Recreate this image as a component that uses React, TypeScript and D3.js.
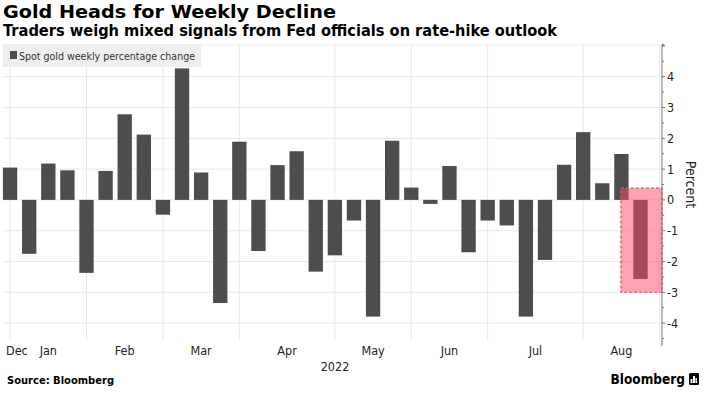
import React, { useRef, useEffect } from 'react';
import * as d3 from 'd3';

// weekly data (week ending Friday)
const weeks = [
  '2021-12-31', '2022-01-07', '2022-01-14', '2022-01-21', '2022-01-28',
  '2022-02-04', '2022-02-11', '2022-02-18', '2022-02-25', '2022-03-04',
  '2022-03-11', '2022-03-18', '2022-03-25', '2022-04-01', '2022-04-08',
  '2022-04-15', '2022-04-22', '2022-04-29', '2022-05-06', '2022-05-13',
  '2022-05-20', '2022-05-27', '2022-06-03', '2022-06-10', '2022-06-17',
  '2022-06-24', '2022-07-01', '2022-07-08', '2022-07-15', '2022-07-22',
  '2022-07-29', '2022-08-05', '2022-08-12', '2022-08-19',
];
const weeklyChange = [
  1.05, -1.75, 1.18, 0.96, -2.37, 0.94, 2.78, 2.12, -0.48, 4.27,
  0.89, -3.35, 1.89, -1.66, 1.13, 1.58, -2.33, -1.8, -0.67, -3.79,
  1.92, 0.4, -0.13, 1.1, -1.7, -0.67, -0.83, -3.79, -1.95, 1.14,
  2.2, 0.54, 1.49, -2.57,
];
const monthLabels = ['Dec', 'Jan', 'Feb', 'Mar', 'Apr', 'May', 'Jun', 'Jul', 'Aug'];
const monthStarts = ['2022-01-01', '2022-02-01', '2022-03-01', '2022-04-01', '2022-05-01',
  '2022-06-01', '2022-07-01', '2022-08-01', '2022-09-01'];
const yTicks = [-4, -3, -2, -1, 0, 1, 2, 3, 4];
const highlightRange = [0.38, -3];

const W = 705;
const H = 393;
const plot = { left: 3, right: 662, top: 45, bottom: 340 };
const FONT = '"DejaVu Sans", sans-serif';
const COND = '"DejaVu Sans Condensed", "DejaVu Sans", sans-serif';

export default function App() {
  const ref = useRef<SVGSVGElement>(null);

  useEffect(() => {
    const svg = d3.select(ref.current);
    svg.selectAll('*').remove();
    const parse = d3.timeParse('%Y-%m-%d');
    const dates = weeks.map(w => parse(w) as Date);

    const x = d3.scaleTime()
      .domain([dates[0], dates[dates.length - 1]])
      .range([10.1, 640.5]);
    const step = x(d3.timeDay.offset(dates[0], 7)) - x(dates[0]);
    const bw = step * 0.75;

    const y = d3.scaleLinear().domain([-4.55, 5.03]).range([plot.bottom, plot.top]);

    // gridlines at the last week before each month start
    const gridDates = monthStarts.map(m => {
      const ms = parse(m) as Date;
      return d3.timeFriday.offset(d3.timeFriday.ceil(ms), -1);
    });
    const gridX = gridDates.map(d => x(d));

    const grid = svg.append('g');
    grid.selectAll('line.h')
      .data(yTicks)
      .enter().append('line')
      .attr('x1', plot.left).attr('x2', plot.right)
      .attr('y1', d => y(d)).attr('y2', d => y(d))
      .attr('stroke', '#e8e8e8').attr('stroke-width', 1);
    grid.append('line')
      .attr('x1', plot.left).attr('x2', plot.right)
      .attr('y1', plot.top).attr('y2', plot.top)
      .attr('stroke', '#ececec');
    grid.selectAll('line.v')
      .data(gridX.filter(v => v < plot.right))
      .enter().append('line')
      .attr('x1', d => d).attr('x2', d => d)
      .attr('y1', plot.top).attr('y2', plot.bottom)
      .attr('stroke', '#e8e8e8');

    // legend
    const lg = svg.append('g');
    lg.append('rect').attr('x', 3).attr('y', 44).attr('width', 198).attr('height', 23)
      .attr('fill', '#efefef');
    lg.append('rect').attr('x', 10).attr('y', 51).attr('width', 7).attr('height', 8)
      .attr('fill', '#4d4d4d');
    lg.append('text').attr('x', 19).attr('y', 59.5)
      .attr('font-family', COND).attr('font-size', 11).attr('fill', '#333')
      .attr('textLength', 176).attr('lengthAdjust', 'spacingAndGlyphs')
      .text('Spot gold weekly percentage change');

    // bars
    svg.append('g').selectAll('rect')
      .data(weeklyChange)
      .enter().append('rect')
      .attr('x', (d, i) => x(dates[i]) - bw / 2)
      .attr('width', bw)
      .attr('y', d => y(Math.max(0, d)))
      .attr('height', d => Math.abs(y(d) - y(0)))
      .attr('fill', '#4d4d4d');

    // highlight
    const hx = x(dates[dates.length - 2]) - 0.5;
    svg.append('rect')
      .attr('x', hx).attr('width', plot.right - hx)
      .attr('y', y(highlightRange[0])).attr('height', y(highlightRange[1]) - y(highlightRange[0]))
      .attr('fill', 'rgba(255,70,100,0.5)')
      .attr('stroke', '#d9506e').attr('stroke-width', 1.2)
      .attr('stroke-dasharray', '3,2');

    // right axis
    const ax = svg.append('g');
    ax.append('line').attr('x1', plot.right).attr('x2', plot.right)
      .attr('y1', plot.top).attr('y2', plot.bottom + 6)
      .attr('stroke', '#777');
    const minor = d3.range(-4.5, 5.01, 0.5);
    ax.selectAll('line.t')
      .data(minor)
      .enter().append('line')
      .attr('x1', plot.right).attr('x2', d => plot.right + (Number.isInteger(d) ? 3 : 2))
      .attr('y1', d => y(d)).attr('y2', d => y(d))
      .attr('stroke', '#777');
    ax.append('path')
      .attr('d', `M${plot.right},${plot.top - 1.5}L${plot.right + 3},${plot.top}L${plot.right},${plot.top + 1.5}Z`)
      .attr('fill', '#777');
    ax.selectAll('text')
      .data(yTicks)
      .enter().append('text')
      .attr('x', plot.right + 5).attr('y', d => y(d) + 4.5)
      .attr('font-family', COND).attr('font-size', 12.5).attr('fill', '#222')
      .text(d => (d < 0 ? '-' + Math.abs(d) : String(d)));
    ax.append('text')
      .attr('transform', `translate(686,${y(0.5)}) rotate(90)`)
      .attr('text-anchor', 'middle')
      .attr('font-family', COND).attr('font-size', 14).attr('fill', '#222')
      .text('Percent');

    // month labels
    const ml = svg.append('g')
      .attr('font-family', COND).attr('font-size', 12.5).attr('fill', '#222');
    monthLabels.forEach((m, i) => {
      if (i === 0) {
        ml.append('text').attr('x', 6).attr('y', 355).text(m);
      } else {
        ml.append('text').attr('x', (gridX[i - 1] + gridX[i]) / 2).attr('y', 355)
          .attr('text-anchor', 'middle').text(m);
      }
    });
    ml.append('text').attr('x', 335).attr('y', 371).attr('text-anchor', 'middle').text('2022');

    // titles
    svg.append('text').attr('x', 3).attr('y', 18)
      .attr('font-family', FONT).attr('font-weight', 'bold').attr('font-size', 18.5).attr('fill', '#000')
      .attr('textLength', 333).attr('lengthAdjust', 'spacingAndGlyphs')
      .text('Gold Heads for Weekly Decline');
    svg.append('text').attr('x', 3).attr('y', 36)
      .attr('font-family', FONT).attr('font-weight', 'bold').attr('font-size', 15).attr('fill', '#000')
      .attr('textLength', 554).attr('lengthAdjust', 'spacingAndGlyphs')
      .text('Traders weigh mixed signals from Fed officials on rate-hike outlook');

    // footer
    svg.append('text').attr('x', 7).attr('y', 384)
      .attr('font-family', FONT).attr('font-weight', 'bold').attr('font-size', 11).attr('fill', '#000')
      .attr('textLength', 107).attr('lengthAdjust', 'spacingAndGlyphs')
      .text('Source: Bloomberg');
    svg.append('text').attr('x', 685).attr('y', 384).attr('text-anchor', 'end')
      .attr('font-family', COND).attr('font-weight', 'bold').attr('font-size', 13.5).attr('fill', '#000')
      .text('Bloomberg');
    const logo = svg.append('g').attr('transform', 'translate(689,373)');
    logo.append('rect').attr('width', 10).attr('height', 12).attr('rx', 1.5).attr('fill', '#000');
    [[2, 6, 2], [4.5, 3, 2], [7, 5, 1.5]].forEach(([bx, by, w]) => {
      logo.append('rect').attr('x', bx - 0.5).attr('y', by).attr('width', w).attr('height', 10 - by)
        .attr('fill', '#fff');
    });
  }, []);

  return (
    <svg ref={ref} width={W} height={H}
      style={{ position: 'absolute', left: 0, top: 0, background: '#fff' }} />
  );
}
